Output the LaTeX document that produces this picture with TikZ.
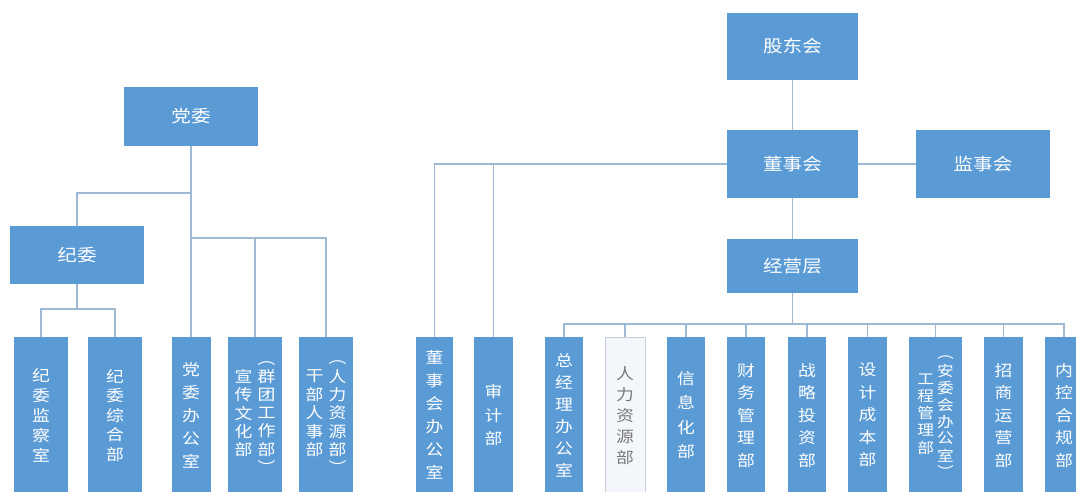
\documentclass[tikz,border=0pt]{standalone}
\usepackage{fontspec}
\setmainfont{Noto Sans CJK SC}[FakeStretch=1.15]
\usetikzlibrary{backgrounds}
\definecolor{boxblue}{HTML}{5B9BD5}
\definecolor{linec}{HTML}{9EB9D4}
\definecolor{lightfill}{HTML}{F3F6FB}
\definecolor{lightdraw}{HTML}{C9CFD8}
\definecolor{greytext}{HTML}{7A7A7A}
\newcommand{\vcol}[3]{{\fontsize{#1}{#2}\selectfont\begin{tabular}{@{}c@{}}#3\end{tabular}}}
\tikzset{
  head/.style={fill=boxblue, text=white, inner sep=0pt, font=\fontsize{17}{20}\selectfont},
  vbox/.style={fill=boxblue, text=white, inner sep=0pt, minimum height=156, align=center,
    anchor=north, font=\fontsize{15.5}{#1}\selectfont},
  vbox/.default=22.5,
  lightbox/.style={vbox=21, fill=lightfill, draw=lightdraw, line width=0.8pt, text=greytext},
  conn/.style={draw=linec, line width=1.5pt},
}
\begin{document}
\begin{tikzpicture}[x=1pt,y=-1pt]
\useasboundingbox (0,0) rectangle (1076,491);
\clip (0,0) rectangle (1076,491);

% left tree
\node[head, minimum width=134, minimum height=59] (dangwei) at (191,116.5) {党委};
\node[head, minimum width=134, minimum height=58] (jiwei) at (77,255) {纪委};

\node[vbox=20, minimum width=54] (L1) at (41,337) {纪\\委\\监\\察\\室};
\node[vbox=19.5, minimum width=54] (L2) at (115,337) {纪\\委\\综\\合\\部};
\node[vbox=23, minimum width=39] (L3) at (191,337) {党\\委\\办\\公\\室};
\node[vbox, minimum width=54] (L4) at (255,337)
  {\vcol{15.5}{18}{宣\\传\\文\\化\\部}\hspace{5pt}\vcol{15.5}{18}{︵\\群\\团\\工\\作\\部\\︶}};
\node[vbox, minimum width=54] (L5) at (326,337)
  {\vcol{15.5}{18}{干\\部\\人\\事\\部}\hspace{5pt}\vcol{15.5}{18}{︵\\人\\力\\资\\源\\部\\︶}};

% right tree
\node[head, minimum width=131, minimum height=67] (gudong) at (792.5,46.5) {股东会};
\node[head, minimum width=131, minimum height=68] (dongshi) at (792.5,164) {董事会};
\node[head, minimum width=134, minimum height=68] (jianshi) at (983,164) {监事会};
\node[head, minimum width=131, minimum height=54] (jingying) at (792.5,266) {经营层};

\node[vbox=23, minimum width=37] (R1) at (434.5,337) {董\\事\\会\\办\\公\\室};
\node[vbox=23.5, minimum width=39] (R2) at (493.5,337) {审\\计\\部};
\node[vbox=22, minimum width=38] (R3) at (564,337) {总\\经\\理\\办\\公\\室};
\node[lightbox, minimum width=40] (R4) at (625,337) {人\\力\\资\\源\\部};
\node[vbox=24.5, minimum width=38] (R5) at (686,337) {信\\息\\化\\部};
\node[vbox, minimum width=38] (R6) at (746,337) {财\\务\\管\\理\\部};
\node[vbox, minimum width=38] (R7) at (807,337) {战\\略\\投\\资\\部};
\node[vbox, minimum width=39] (R8) at (867.5,337) {设\\计\\成\\本\\部};
\node[vbox, minimum width=53] (R9) at (935.5,337)
  {\vcol{14.5}{17.2}{工\\程\\管\\理\\部}\hspace{3pt}\vcol{14.5}{16.2}{︵\\安\\委\\会\\办\\公\\室\\︶}};
\node[vbox, minimum width=39] (R10) at (1003.5,337) {招\\商\\运\\营\\部};
\node[vbox, minimum width=38] (R11) at (1064,337) {内\\控\\合\\规\\部};

\coordinate (jw) at (191,193);
\coordinate (pb) at (191,238);
\coordinate (jb) at (77,309);
\coordinate (bus) at (792.5,324);

\begin{scope}[on background layer]
  \fill[white] (0,0) rectangle (1076,491);
  \draw[conn] (dangwei.south) -- (L3.north);
  \draw[conn] (jw) -| (jiwei.north);
  \draw[conn] (pb) -| (L5.north);
  \draw[conn] (pb) -| (L4.north);
  \draw[conn] (jiwei.south) -- (jb);
  \draw[conn] (L1.north) |- (jb) -| (L2.north);

  \draw[conn] (gudong.south) -- (dongshi.north);
  \draw[conn] (dongshi.east) -- (jianshi.west);
  \draw[conn] (dongshi.south) -- (jingying.north);
  \draw[conn] (R1.north) |- (dongshi.west);
  \draw[conn] (R2.north) |- (dongshi.west);
  \draw[conn] (jingying.south) -- (bus);
  \foreach \r in {R3,R4,R5,R6,R7,R8,R9,R10,R11}
    \draw[conn] (\r.north) |- (bus);
\end{scope}
\end{tikzpicture}
\end{document}
